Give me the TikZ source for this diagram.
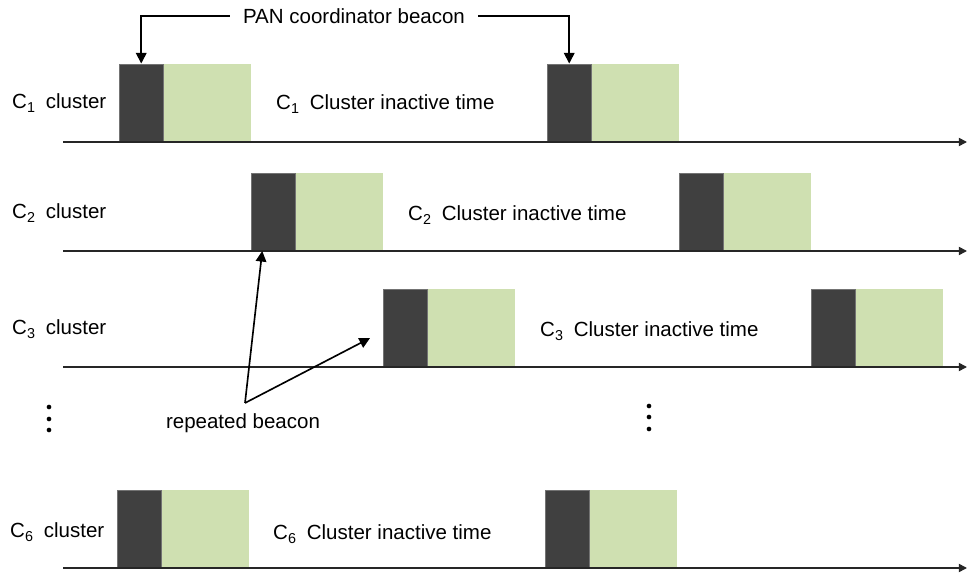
\documentclass[tikz,border=0pt]{standalone}
\usepackage{fontspec}
\setmainfont{Liberation Sans}
\usepackage{tikz}
\usetikzlibrary{positioning}
\usetikzlibrary{arrows.meta}
\definecolor{beacongray}{RGB}{64,64,64}
\definecolor{activegreen}{RGB}{207,224,177}
\tikzset{%
  axisarrow/.style = {-{Triangle[length=7pt,width=7pt]},line width=1.4pt,
        draw=black!85},
  notearrow/.style = {-{Triangle[length=9pt,width=9pt]},line width=1.4pt},
  b/.style = {rectangle,fill=beacongray,draw=black!55,line width=0.4pt,
        inner sep=0pt,minimum width=1.32cm,minimum height=2.34cm,
        anchor=south west},
  g/.style = {rectangle,fill=activegreen,inner sep=0pt,
        minimum width=2.62cm,minimum height=2.34cm,anchor=south west},
  lbl/.style = {anchor=base west,inner sep=0pt,
        font=\fontsize{17.5}{21}\selectfont},
  dot/.style = {circle,fill=black,inner sep=0pt,minimum size=4pt}
}

\begin{document}
\begin{tikzpicture}[x=0.03cm,y=-0.03cm]
    \useasboundingbox (0,0) rectangle (967,573);
    % superframes
    \node[b] (b11) at (119,142) {};
    \node[g] (g11) at (b11.south east) {};
    \node[b] (b12) at (547,142) {};
    \node[g] (g12) at (b12.south east) {};
    \node[b] (b21) at (251,251) {};
    \node[g] (g21) at (b21.south east) {};
    \node[b] (b22) at (679,251) {};
    \node[g] (g22) at (b22.south east) {};
    \node[b] (b31) at (383,367) {};
    \node[g] (g31) at (b31.south east) {};
    \node[b] (b32) at (811,367) {};
    \node[g] (g32) at (b32.south east) {};
    \node[b] (b61) at (117,568) {};
    \node[g] (g61) at (b61.south east) {};
    \node[b] (b62) at (545,568) {};
    \node[g] (g62) at (b62.south east) {};
    % time axes
    \coordinate (s1) at (63,142);
    \coordinate (e1) at (967,142);
    \coordinate (s2) at (63,251);
    \coordinate (e2) at (967,251);
    \coordinate (s3) at (63,367);
    \coordinate (e3) at (967,367);
    \coordinate (s6) at (63,568);
    \coordinate (e6) at (967,568);
    \draw[axisarrow] (s1) -- (e1);
    \draw[axisarrow] (s2) -- (e2);
    \draw[axisarrow] (s3) -- (e3);
    \draw[axisarrow] (s6) -- (e6);
    % labels
    \node[lbl] (l1) at (12,109) {C\textsubscript{1}\hspace{0.5em}cluster};
    \node[lbl] (l2) at (12,219) {C\textsubscript{2}\hspace{0.5em}cluster};
    \node[lbl] (l3) at (12,335) {C\textsubscript{3}\hspace{0.5em}cluster};
    \node[lbl] (l6) at (10,538) {C\textsubscript{6}\hspace{0.5em}cluster};
    \node[lbl] (i1) at (276,110) {C\textsubscript{1}\hspace{0.5em}Cluster inactive time};
    \node[lbl] (i2) at (408,221) {C\textsubscript{2}\hspace{0.5em}Cluster inactive time};
    \node[lbl] (i3) at (540,337) {C\textsubscript{3}\hspace{0.5em}Cluster inactive time};
    \node[lbl] (i6) at (273,540) {C\textsubscript{6}\hspace{0.5em}Cluster inactive time};
    % beacon notes
    \node[lbl,anchor=center,inner xsep=11pt] (pan) at (354,16) {PAN coordinator beacon};
    \draw[notearrow] (pan.west) -| (b11.north);
    \draw[notearrow] (pan.east) -| (b12.north);
    \node[lbl,anchor=base] (rep) at (243,429) {repeated beacon};
    \coordinate (rb) at (245,403);
    \draw[notearrow] (rb) -- ([xshift=-0.33cm]b21.south);
    \draw[notearrow] (rb) -- ([xshift=-0.39cm,yshift=-0.31cm]b31.west);
    % dots
    \node[dot] (d1) at (49,407) {};
    \node[dot] (d2) at (49,419) {};
    \node[dot] (d3) at (49,430) {};
    \node[dot] (d4) at (649,406) {};
    \node[dot] (d5) at (649,417) {};
    \node[dot] (d6) at (649,429) {};
\end{tikzpicture}
\end{document}
